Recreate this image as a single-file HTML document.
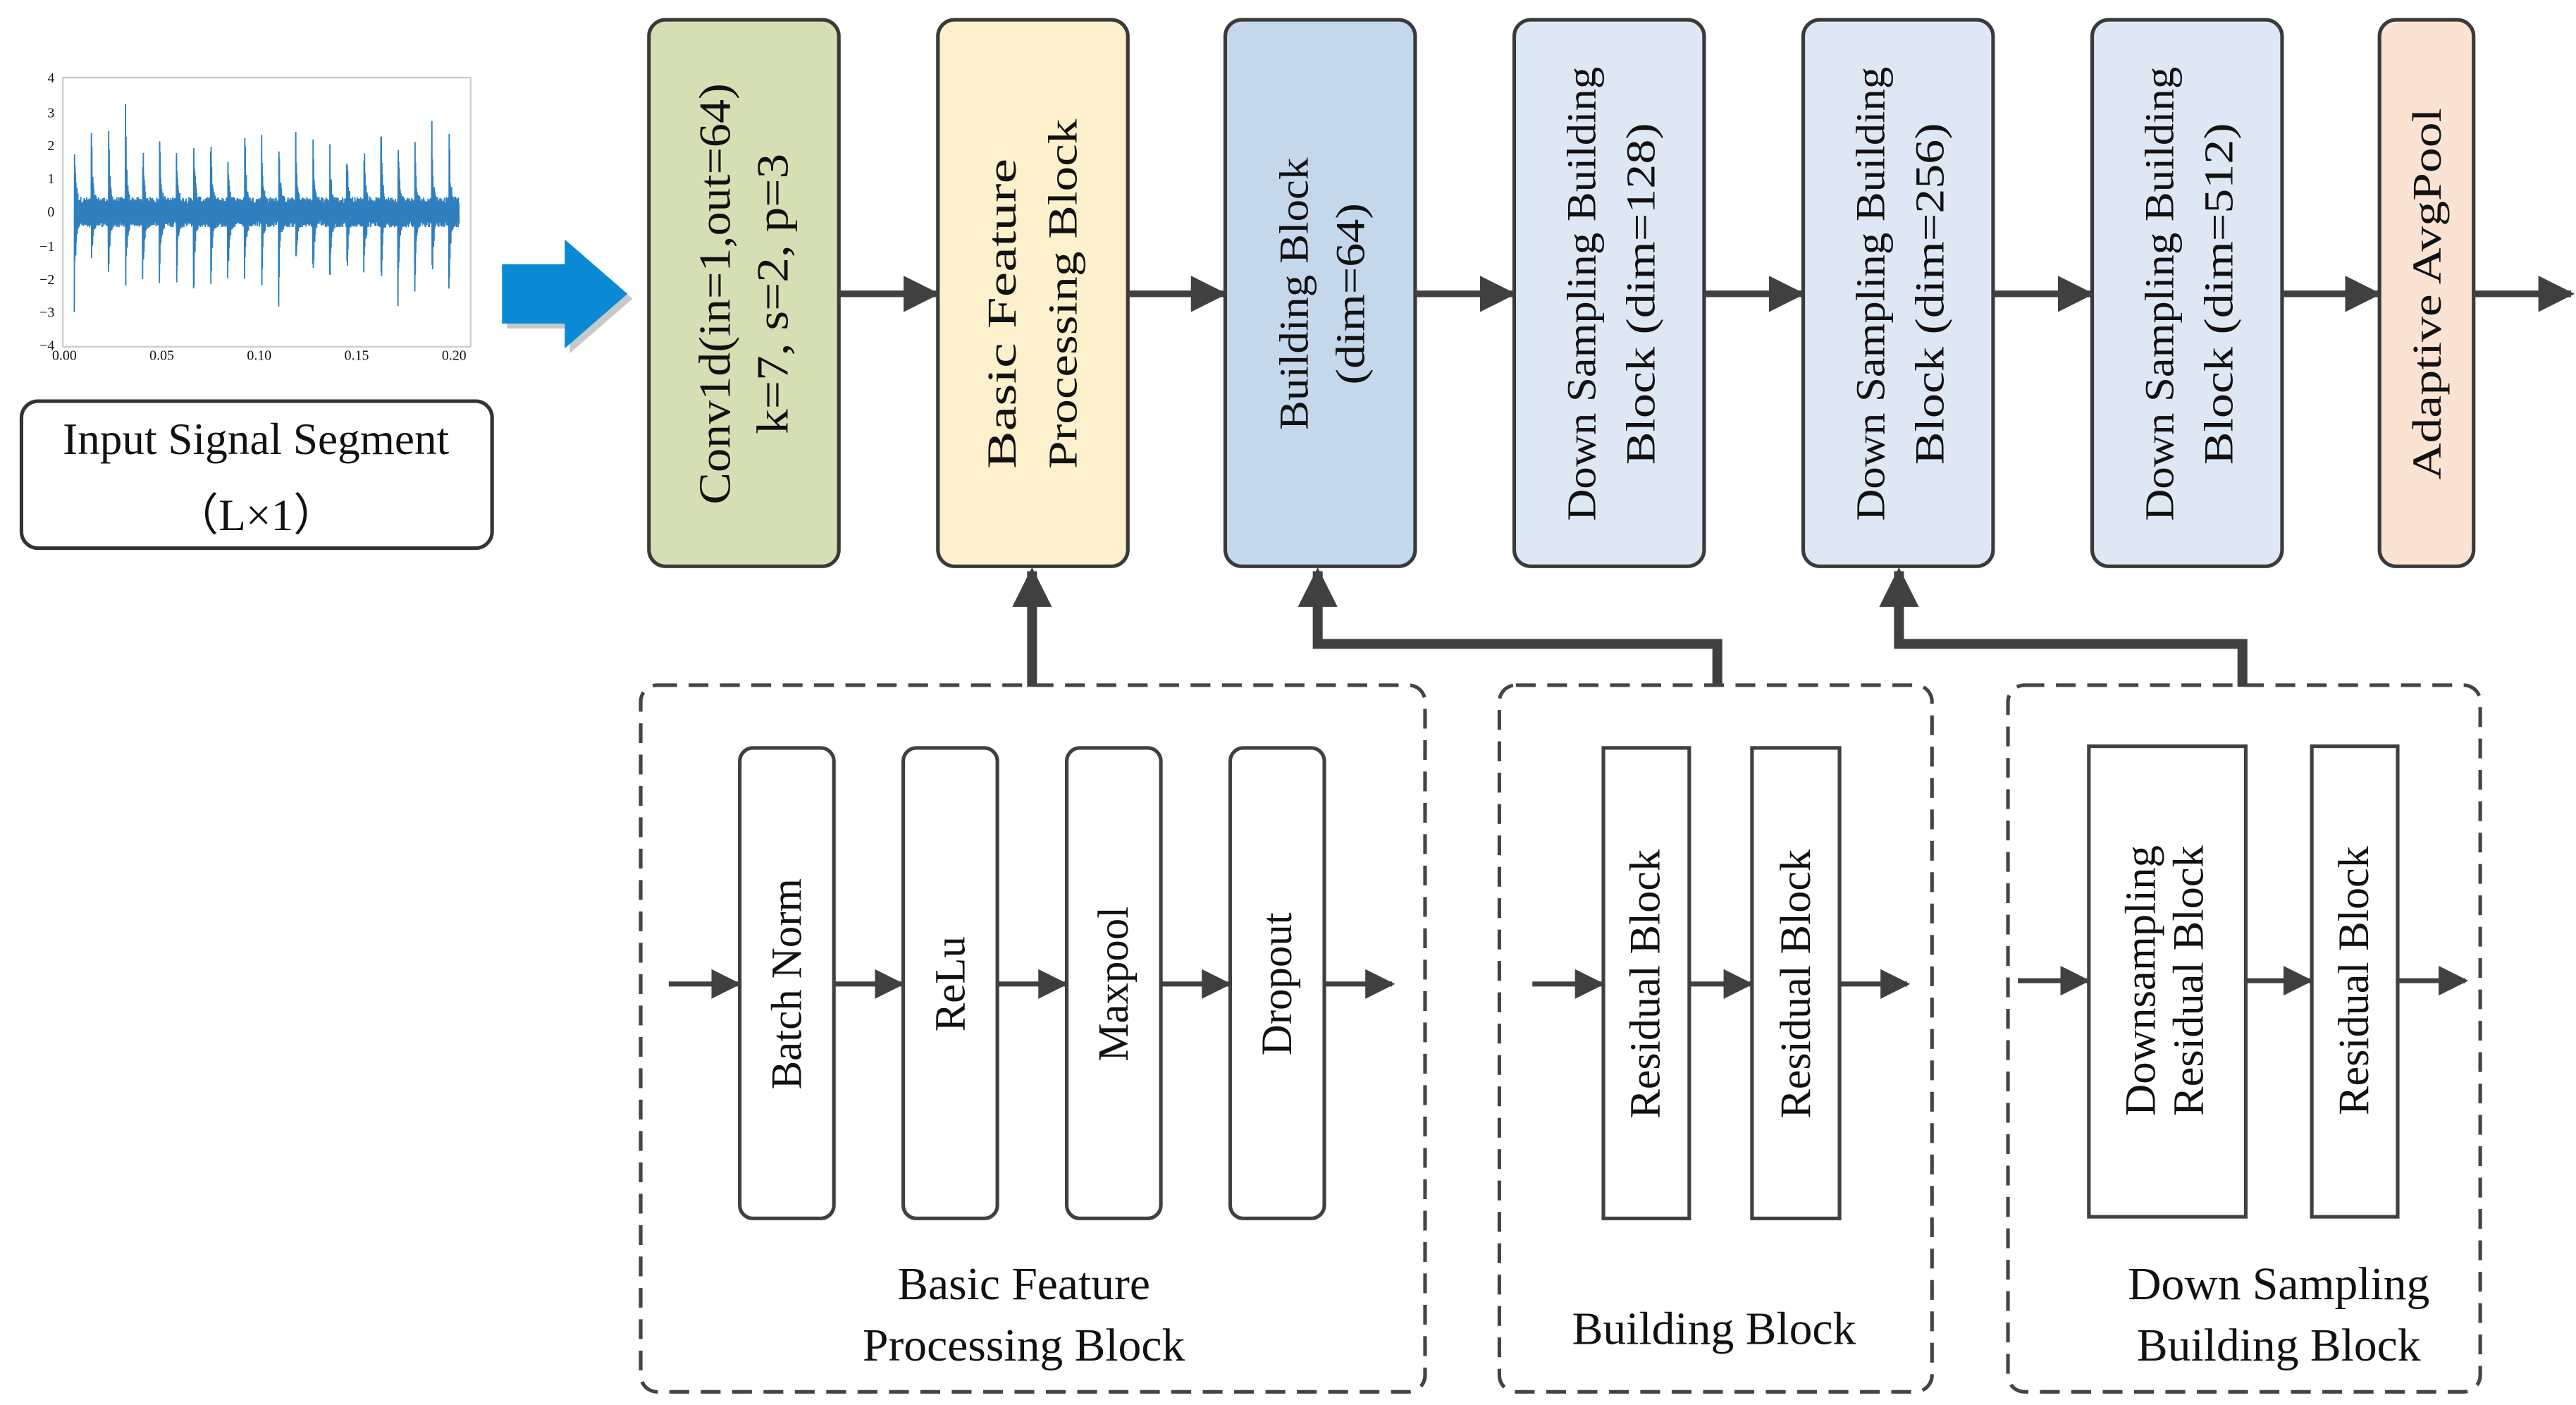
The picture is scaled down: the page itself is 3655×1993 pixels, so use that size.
<!DOCTYPE html>
<html><head><meta charset="utf-8"><style>
html,body{margin:0;padding:0;background:#fff}
svg{display:block}
text{font-family:"Liberation Serif",serif;fill:#111}
</style></head><body>
<svg width="3655" height="1993" viewBox="0 0 1560 851" preserveAspectRatio="none" xmlns="http://www.w3.org/2000/svg">
<defs>
<marker id="ah" viewBox="0 0 10 10" refX="9" refY="5" markerWidth="5.5" markerHeight="5.5" orient="auto" markerUnits="strokeWidth">
<path d="M0,0 L10,5 L0,10 Z" fill="#404040"/></marker>
<marker id="as" viewBox="0 0 10 10" refX="9" refY="5" markerWidth="6" markerHeight="6" orient="auto" markerUnits="strokeWidth">
<path d="M0,0 L10,5 L0,10 Z" fill="#404040"/></marker>
<marker id="au" viewBox="0 0 10 10" refX="9" refY="5" markerWidth="4.5" markerHeight="4" orient="auto" markerUnits="strokeWidth">
<path d="M0,0 L10,5 L0,10 Z" fill="#404040"/></marker>
</defs>

<!-- plot -->
<rect x="38" y="47" width="247" height="163" fill="none" stroke="#ccc" stroke-width="1"/>
<g font-size="8.5" text-anchor="end">
<text x="33" y="50">4</text><text x="33" y="71">3</text><text x="33" y="91">2</text><text x="33" y="111">1</text>
<text x="33" y="131">0</text><text x="33" y="152">−1</text><text x="33" y="172">−2</text><text x="33" y="192">−3</text><text x="33" y="212">−4</text>
</g>
<g font-size="8.5" text-anchor="middle">
<text x="39" y="218">0.00</text><text x="98" y="218">0.05</text><text x="157" y="218">0.10</text><text x="216" y="218">0.15</text><text x="275" y="218">0.20</text>
</g>
<path id="sig" fill="none" stroke="#2f7fbf" stroke-width="0.8"/>

<!-- input box -->
<rect x="13" y="243" width="285" height="89" rx="10" fill="#fff" stroke="#333" stroke-width="2.2"/>
<text x="155" y="275" font-size="27" text-anchor="middle">Input Signal Segment</text>
<text x="155" y="321" font-size="27" text-anchor="middle">（L×1）</text>

<!-- blue arrow -->
<path d="M307,163 H345 V148 L383,181 L345,214 V199 H307 Z" fill="#c8c8c8"/>
<path d="M304,160 H342 V145 L380,178 L342,211 V196 H304 Z" fill="#0a8ad4"/>

<!-- top boxes -->
<g stroke="#3a3a3a" stroke-width="2.2">
<rect x="393" y="12" width="115" height="331" rx="10" fill="#d6dfb3"/>
<rect x="568" y="12" width="115" height="331" rx="10" fill="#fdf0cc"/>
<rect x="742" y="12" width="115" height="331" rx="10" fill="#c5d7ea"/>
<rect x="917" y="12" width="115" height="331" rx="10" fill="#dde8f4"/>
<rect x="1092" y="12" width="115" height="331" rx="10" fill="#dde8f4"/>
<rect x="1267" y="12" width="115" height="331" rx="10" fill="#dde8f4"/>
<rect x="1441" y="12" width="57" height="331" rx="10" fill="#fbe3d3"/>
</g>
<g font-size="27" text-anchor="middle">
<text transform="translate(442,178) rotate(-90)" textLength="255" lengthAdjust="spacingAndGlyphs">Conv1d(in=1,out=64)</text>
<text transform="translate(477,178) rotate(-90)" textLength="170" lengthAdjust="spacingAndGlyphs">k=7, s=2, p=3</text>
</g>
<g font-size="25" text-anchor="middle">
<text transform="translate(615,190) rotate(-90)" textLength="188" lengthAdjust="spacingAndGlyphs">Basic Feature</text>
<text transform="translate(652,178) rotate(-90)" textLength="212" lengthAdjust="spacingAndGlyphs">Processing Block</text>
<text transform="translate(792,178) rotate(-90)" textLength="165" lengthAdjust="spacingAndGlyphs">Building Block</text>
<text transform="translate(826,178) rotate(-90)" textLength="110" lengthAdjust="spacingAndGlyphs">(dim=64)</text>
<text transform="translate(966,178) rotate(-90)" textLength="275" lengthAdjust="spacingAndGlyphs">Down Sampling Building</text>
<text transform="translate(1002,178) rotate(-90)" textLength="207" lengthAdjust="spacingAndGlyphs">Block (dim=128)</text>
<text transform="translate(1141,178) rotate(-90)" textLength="275" lengthAdjust="spacingAndGlyphs">Down Sampling Building</text>
<text transform="translate(1177,178) rotate(-90)" textLength="207" lengthAdjust="spacingAndGlyphs">Block (dim=256)</text>
<text transform="translate(1316,178) rotate(-90)" textLength="275" lengthAdjust="spacingAndGlyphs">Down Sampling Building</text>
<text transform="translate(1352,178) rotate(-90)" textLength="207" lengthAdjust="spacingAndGlyphs">Block (dim=512)</text>
<text transform="translate(1478,178) rotate(-90)" textLength="225" lengthAdjust="spacingAndGlyphs">Adaptive AvgPool</text>
</g>

<!-- horizontal top arrows -->
<g stroke="#404040" stroke-width="4" marker-end="url(#ah)" fill="none">
<line x1="508" y1="178" x2="567" y2="178"/>
<line x1="683" y1="178" x2="741" y2="178"/>
<line x1="857" y1="178" x2="916" y2="178"/>
<line x1="1032" y1="178" x2="1091" y2="178"/>
<line x1="1207" y1="178" x2="1266" y2="178"/>
<line x1="1382" y1="178" x2="1440" y2="178"/>
<line x1="1498" y1="178" x2="1557" y2="178"/>
</g>

<!-- up arrows -->
<g stroke="#404040" stroke-width="6" fill="none" marker-end="url(#au)" stroke-linejoin="miter">
<polyline points="625,416 625,346"/>
<polyline points="1040,416 1040,390 798,390 798,346"/>
<polyline points="1358,416 1358,390 1150,390 1150,346"/>
</g>

<!-- dashed groups -->
<g fill="none" stroke="#444" stroke-width="2.2" stroke-dasharray="12,7">
<rect x="388" y="415" width="475" height="428" rx="10"/>
<rect x="908" y="415" width="262" height="428" rx="10"/>
<rect x="1216" y="415" width="286" height="428" rx="10"/>
</g>

<!-- inner boxes -->
<g fill="#fff" stroke="#404040" stroke-width="2.2">
<rect x="448" y="453" width="57" height="285" rx="8"/>
<rect x="547" y="453" width="57" height="285" rx="8"/>
<rect x="646" y="453" width="57" height="285" rx="8"/>
<rect x="745" y="453" width="57" height="285" rx="8"/>
<rect x="971" y="453" width="52" height="285"/>
<rect x="1061" y="453" width="53" height="285"/>
<rect x="1265" y="452" width="95" height="285"/>
<rect x="1400" y="452" width="52" height="285"/>
</g>
<g font-size="26" text-anchor="middle">
<text transform="translate(485,596) rotate(-90)">Batch Norm</text>
<text transform="translate(584,596) rotate(-90)">ReLu</text>
<text transform="translate(683,596) rotate(-90)">Maxpool</text>
<text transform="translate(782,596) rotate(-90)">Dropout</text>
<text transform="translate(1005,596) rotate(-90)" textLength="163" lengthAdjust="spacingAndGlyphs">Residual Block</text>
<text transform="translate(1096,596) rotate(-90)" textLength="163" lengthAdjust="spacingAndGlyphs">Residual Block</text>
<text transform="translate(1305,594) rotate(-90)" textLength="164" lengthAdjust="spacingAndGlyphs">Downsampling</text>
<text transform="translate(1334,594) rotate(-90)" textLength="164" lengthAdjust="spacingAndGlyphs">Residual Block</text>
<text transform="translate(1434,594) rotate(-90)" textLength="163" lengthAdjust="spacingAndGlyphs">Residual Block</text>
</g>
<g stroke="#404040" stroke-width="3" marker-end="url(#as)">
<line x1="405" y1="596" x2="447" y2="596"/>
<line x1="505" y1="596" x2="546" y2="596"/>
<line x1="604" y1="596" x2="645" y2="596"/>
<line x1="703" y1="596" x2="744" y2="596"/>
<line x1="802" y1="596" x2="843" y2="596"/>
<line x1="928" y1="596" x2="970" y2="596"/>
<line x1="1023" y1="596" x2="1060" y2="596"/>
<line x1="1114" y1="596" x2="1155" y2="596"/>
<line x1="1222" y1="594" x2="1264" y2="594"/>
<line x1="1360" y1="594" x2="1399" y2="594"/>
<line x1="1452" y1="594" x2="1493" y2="594"/>
</g>
<g font-size="28" text-anchor="middle">
<text x="620" y="787">Basic Feature</text>
<text x="620" y="824">Processing Block</text>
<text x="1038" y="814">Building Block</text>
<text x="1380" y="787">Down Sampling</text>
<text x="1380" y="824">Building Block</text>
</g>
</svg>
<script>
(function(){
var s=12345;function r(){s=(s*1103515245+12345)%2147483648;return s/2147483648;}
var x0=45,x1=278,y0=128.5,k=20.4,d="";var n=1600;
var period=(x1-x0)/22.6;var pk=[];
for(var j=0;j<30;j++)pk.push(2.0+r()*1.2);
for(var i=0;i<=n;i++){var x=x0+(x1-x0)*i/n;var t=(x-x0);var idx=Math.floor(t/period);var ph=(t%period)/period;
var env=Math.exp(-ph*14)*pk[idx]+0.45;
var v=env*(0.55+0.45*r())*(i%2?1:-1);
d+=(i?"L":"M")+x.toFixed(2)+","+(y0-v*k).toFixed(2);}
document.getElementById("sig").setAttribute("d",d);
})();
</script>
</body></html>
